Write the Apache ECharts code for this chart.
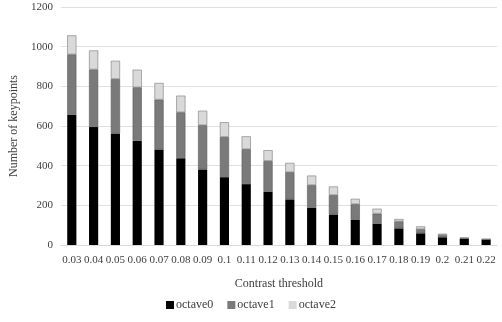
<!DOCTYPE html>
<html>
<head>
<meta charset="utf-8">
<script src="https://cdn.jsdelivr.net/npm/echarts@6/dist/echarts.min.js"></script>
<style>
  html, body { margin: 0; padding: 0; background: #fff; }
  #chart { width: 502px; height: 322px; }
</style>
</head>
<body>
<div id="chart"></div>
<script>
const thresholds = ["0.03", "0.04", "0.05", "0.06", "0.07", "0.08", "0.09", "0.1", "0.11", "0.12",
  "0.13", "0.14", "0.15", "0.16", "0.17", "0.18", "0.19", "0.2", "0.21", "0.22"];
const octave0 = [657, 595, 562, 525, 481, 438, 381, 342, 307, 268, 230, 188, 154, 127, 107, 84, 59, 39, 32, 27];
const octave1 = [304, 290, 275, 270, 252, 231, 223, 203, 176, 156, 137, 114, 98, 79, 51, 35, 21, 11, 3, 2];
const octave2 = [96, 96, 92, 89, 84, 84, 73, 74, 65, 54, 47, 48, 43, 27, 25, 12, 14, 7, 1, 1];

const font = "Liberation Serif";
const chart = echarts.init(document.getElementById("chart"));

function seriesOf(name, data, color, border) {
  return {
    name: name,
    type: "bar",
    stack: "total",
    barWidth: "42%",
    data: data,
    itemStyle: { color: color, borderColor: border, borderWidth: border ? 0.6 : 0 },
  };
}

chart.setOption({
  animation: false,
  textStyle: { fontFamily: font },
  grid: { left: 55, right: 5, top: 7, bottom: 77 },
  legend: {
    bottom: 6,
    icon: "rect",
    itemWidth: 8,
    itemHeight: 8,
    itemGap: 14,
    itemStyle: { borderWidth: 0 },
    textStyle: { fontFamily: font, fontSize: 12, color: "#404040", padding: [0, 0, 0, -3] },
    data: ["octave0", "octave1", "octave2"],
  },
  xAxis: {
    type: "category",
    data: thresholds,
    name: "Contrast threshold",
    nameLocation: "middle",
    nameGap: 33,
    nameTextStyle: { fontFamily: font, fontSize: 12, color: "#404040" },
    axisLine: { lineStyle: { color: "#d9d9d9" } },
    axisTick: { show: false },
    axisLabel: { fontFamily: font, fontSize: 11, color: "#404040", interval: 0, margin: 10 },
  },
  yAxis: {
    type: "value",
    min: 0,
    max: 1200,
    interval: 200,
    name: "Number of keypoints",
    nameLocation: "middle",
    nameGap: 40,
    nameTextStyle: { fontFamily: font, fontSize: 12, color: "#404040" },
    axisLine: { show: false },
    axisTick: { show: false },
    axisLabel: { fontFamily: font, fontSize: 11, color: "#404040", margin: 8, formatter: (v) => String(v) },
    splitLine: { lineStyle: { color: "#e0e0e0" } },
  },
  series: [
    seriesOf("octave0", octave0, "#000000", null),
    seriesOf("octave1", octave1, "#7a7a7a", "#5a5a5a"),
    seriesOf("octave2", octave2, "#d9d9d9", "#7a7a7a"),
  ],
});
</script>
</body>
</html>
